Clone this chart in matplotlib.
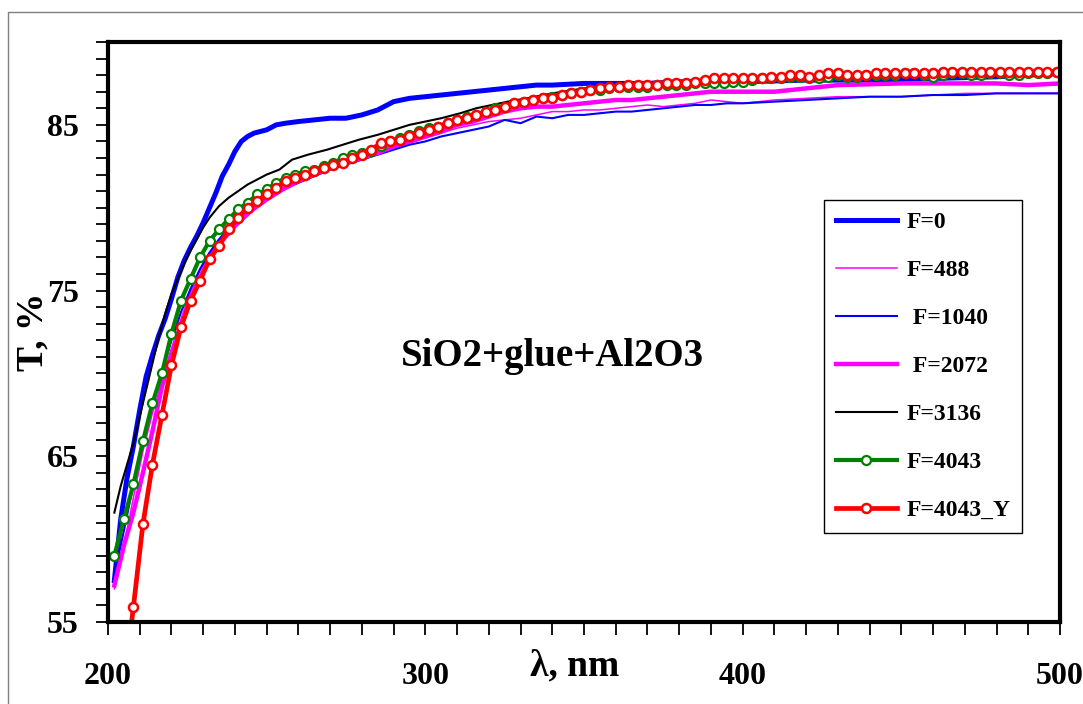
import matplotlib.pyplot as plt
from matplotlib.patches import Rectangle
from matplotlib.ticker import MultipleLocator

plt.rcParams['font.family'] = ['Liberation Serif', 'DejaVu Serif']
plt.rcParams['font.weight'] = 'bold'

# --- data (wavelength, nm / transmission, %) ---
lam_f0 = [202, 204, 206, 208, 210, 212, 214, 216, 218, 220, 222, 224, 226, 228, 230,
          232, 234, 236, 238, 240, 242, 244, 246, 248, 250, 253, 256, 260, 265, 270,
          275, 280, 285, 290, 295, 300, 305, 310, 315, 320, 325, 330, 335, 340, 350,
          360, 370, 380, 390, 400, 420, 440, 460, 480, 500]
t_f0 = [57.5, 61.2, 63.7, 65.6, 67.8, 69.8, 71.1, 72.3, 73.3, 74.5, 75.8, 76.8, 77.6, 78.3, 79.1,
        80.0, 80.9, 81.9, 82.6, 83.4, 84.0, 84.3, 84.5, 84.6, 84.7, 85.0, 85.1, 85.2, 85.3, 85.4,
        85.4, 85.6, 85.9, 86.4, 86.6, 86.7, 86.8, 86.9, 87.0, 87.1, 87.2, 87.3, 87.4, 87.4, 87.5,
        87.5, 87.5, 87.6, 87.6, 87.6, 87.7, 87.7, 87.8, 87.9, 88.1]

lam_b = [202, 205, 208, 211, 214, 217, 220, 223, 226, 229, 232, 235, 240, 245, 250,
         255, 260, 265, 270, 275, 280, 285, 290, 295, 300, 305, 310, 315, 320, 325,
         330, 335, 340, 345, 350, 355, 360, 365, 370, 375, 380, 385, 390, 395, 400,
         410, 420, 430, 440, 450, 460, 470, 480, 490, 500]
t_f488 = [57.0, 59.5, 62.5, 65.3, 67.6, 69.5, 71.5, 73.3, 74.9, 76.2, 77.2, 78.0, 79.1, 80.0, 80.7,
          81.3, 81.7, 82.1, 82.4, 82.7, 83.0, 83.3, 83.6, 83.9, 84.2, 84.5, 84.8, 85.0, 85.2, 85.3,
          85.4, 85.6, 85.8, 85.8, 85.9, 85.9, 86.0, 86.1, 86.2, 86.1, 86.2, 86.3, 86.5, 86.4, 86.3,
          86.5, 86.6, 86.7, 86.7, 86.7, 86.8, 86.9, 86.9, 86.9, 86.9]
t_f1040 = [57.8, 60.5, 63.3, 66.0, 68.2, 70.1, 72.0, 73.7, 75.1, 76.3, 77.3, 78.1, 79.2, 80.0, 80.6,
           81.1, 81.5, 81.9, 82.3, 82.6, 82.9, 83.2, 83.5, 83.8, 84.0, 84.3, 84.5, 84.7, 84.9, 85.3,
           85.1, 85.5, 85.4, 85.6, 85.6, 85.7, 85.8, 85.8, 85.9, 86.0, 86.1, 86.2, 86.2, 86.3, 86.3,
           86.4, 86.5, 86.6, 86.7, 86.7, 86.8, 86.8, 86.9, 86.9, 86.9]
t_f2072 = [57.2, 59.6, 61.6, 64.0, 66.5, 69.2, 71.2, 72.8, 74.5, 75.8, 76.9, 77.8, 78.9, 79.8, 80.5,
           81.1, 81.6, 82.0, 82.4, 82.7, 83.0, 83.3, 83.7, 84.0, 84.3, 84.6, 85.0, 85.2, 85.5, 85.8,
           86.0, 86.1, 86.1, 86.2, 86.3, 86.4, 86.5, 86.5, 86.6, 86.7, 86.8, 86.9, 87.0, 87.0, 87.0,
           87.0, 87.2, 87.4, 87.45, 87.5, 87.5, 87.5, 87.5, 87.4, 87.5]

lam_f3136 = [202, 204, 206, 208, 210, 212, 214, 216, 218, 220, 222, 224, 226, 228, 230,
             232, 235, 238, 241, 244, 247, 250, 254, 258, 263, 269, 274, 279, 285, 290,
             295, 300, 305, 311, 316, 321, 326, 332, 340, 350, 361, 370, 380, 390, 400,
             420, 440, 460, 480, 500]
t_f3136 = [61.6, 63.2, 64.5, 65.8, 67.4, 69.0, 70.6, 72.2, 73.6, 74.8, 75.7, 76.6, 77.4, 78.1, 78.8,
           79.4, 80.1, 80.6, 81.0, 81.4, 81.7, 82.0, 82.3, 82.9, 83.2, 83.5, 83.8, 84.1, 84.4, 84.7,
           85.0, 85.2, 85.4, 85.7, 86.0, 86.2, 86.4, 86.6, 86.9, 87.2, 87.4, 87.5, 87.5, 87.6, 87.7,
           87.8, 87.9, 87.9, 88.0, 88.1]

lam_m = list(range(202, 500, 3))
t_f4043 = [59.0, 61.2, 63.3, 65.9, 68.2, 70.0, 72.4, 74.4, 75.7, 77.0,
           78.0, 78.7, 79.3, 79.9, 80.3, 80.8, 81.1, 81.5, 81.8, 82.0,
           82.2, 82.3, 82.5, 82.7, 83.0, 83.2, 83.3, 83.4, 83.7, 84.0,
           84.2, 84.4, 84.6, 84.8, 84.9, 85.1, 85.3, 85.5, 85.6, 85.8,
           86.0, 86.1, 86.3, 86.4, 86.5, 86.6, 86.7, 86.8, 86.9, 87.0,
           87.1, 87.1, 87.2, 87.3, 87.3, 87.3, 87.3, 87.4, 87.4, 87.4,
           87.4, 87.5, 87.5, 87.5, 87.5, 87.6, 87.6, 87.7, 87.8, 87.8,
           87.8, 87.9, 87.9, 87.8, 87.8, 87.9, 88.0, 87.9, 87.9, 88.0,
           88.0, 88.0, 88.0, 88.1, 88.1, 88.0, 87.9, 88.0, 88.1, 88.1,
           88.0, 88.0, 88.1, 88.1, 88.0, 88.0, 88.1, 88.1, 88.1, 88.2]
t_f4043y = [None, 51.0, 55.9, 60.9, 64.5, 67.5, 70.5, 72.8, 74.4, 75.6,
            76.9, 77.7, 78.7, 79.4, 80.0, 80.4, 80.8, 81.2, 81.6, 81.8,
            82.0, 82.2, 82.4, 82.6, 82.7, 83.0, 83.2, 83.5, 83.9, 84.0,
            84.1, 84.3, 84.5, 84.7, 84.9, 85.1, 85.3, 85.4, 85.6, 85.8,
            85.9, 86.1, 86.3, 86.4, 86.5, 86.6, 86.6, 86.8, 86.9, 87.0,
            87.1, 87.2, 87.3, 87.3, 87.4, 87.4, 87.4, 87.4, 87.5, 87.5,
            87.5, 87.6, 87.7, 87.8, 87.8, 87.8, 87.8, 87.8, 87.8, 87.9,
            87.9, 88.0, 88.0, 87.9, 88.0, 88.1, 88.1, 88.0, 88.0, 88.0,
            88.1, 88.1, 88.1, 88.1, 88.1, 88.1, 88.1, 88.2, 88.2, 88.2,
            88.2, 88.2, 88.2, 88.2, 88.2, 88.2, 88.2, 88.2, 88.2, 88.2]

labels = ['F=0', 'F=488', ' F=1040', ' F=2072', 'F=3136', 'F=4043', 'F=4043_Y']

fig = plt.figure(figsize=(10.83, 7.04), dpi=100)
ax = fig.add_axes([108 / 1083, 1 - 622 / 704, 952 / 1083, 580 / 704])

# grey frame round the picture
fig.patches.append(Rectangle((8 / 1083, -0.05), 1.2, 1.05 - 12 / 704, transform=fig.transFigure,
                             fill=False, ec='#7f7f7f', lw=1.0))

ax.plot(lam_f0, t_f0, color='#0000ff', lw=3.6, label=labels[0])
ax.plot(lam_b, t_f488, color='#ff00ff', lw=1.1, label=labels[1])
ax.plot(lam_b, t_f1040, color='#0000ff', lw=1.5, label=labels[2])
ax.plot(lam_b, t_f2072, color='#ff00ff', lw=3.2, label=labels[3])
ax.plot(lam_f3136, t_f3136, color='black', lw=1.5, label=labels[4])
ax.plot(lam_m, t_f4043, color='#008000', lw=3.0, marker='o', ms=6.5, mfc='white',
        mec='#008000', mew=1.6, label=labels[5])
red_lam = [l for l, t in zip(lam_m, t_f4043y) if t is not None]
red_t = [t for t in t_f4043y if t is not None]
ax.plot(red_lam, red_t, color='#ff0000', lw=3.4, marker='o', ms=6.5, mfc='white',
        mec='#ff0000', mew=1.8, label=labels[6])

ax.set_xlim(200, 500)
ax.set_ylim(55, 90)
ax.xaxis.set_major_locator(MultipleLocator(100))
ax.xaxis.set_minor_locator(MultipleLocator(10))
ax.set_yticks([55, 65, 75, 85])
ax.yaxis.set_minor_locator(MultipleLocator(1))

for s in ax.spines.values():
    s.set_linewidth(3.0)
ax.tick_params(which='both', direction='out', length=9, width=1.3, labelsize=23)
ax.tick_params(axis='x', which='both', pad=20)
ax.tick_params(axis='y', which='both', pad=12)
ax.get_xticklabels()[0].set_ha('left')

ax.set_xlabel('λ, nm', fontsize=27, fontweight='bold')
ax.xaxis.set_label_coords(0.49, -0.046)
ax.set_ylabel('T, %', fontsize=27, fontweight='bold')
ax.yaxis.set_label_coords(-0.06, 0.5)

ax.text(340, 71.0, 'SiO2+glue+Al2O3', fontsize=28, fontweight='bold', ha='center', va='center')

leg = ax.legend(loc='upper left', bbox_to_anchor=(0.752, 0.728), borderaxespad=0,
                numpoints=1, handlelength=2.6, handletextpad=0.4,
                labelspacing=1.12, borderpad=0.5, fancybox=False, framealpha=1,
                edgecolor='black', prop={'weight': 'bold', 'size': 17})
leg.get_frame().set_linewidth(1.0)

fig.savefig('out.png', dpi=100)
